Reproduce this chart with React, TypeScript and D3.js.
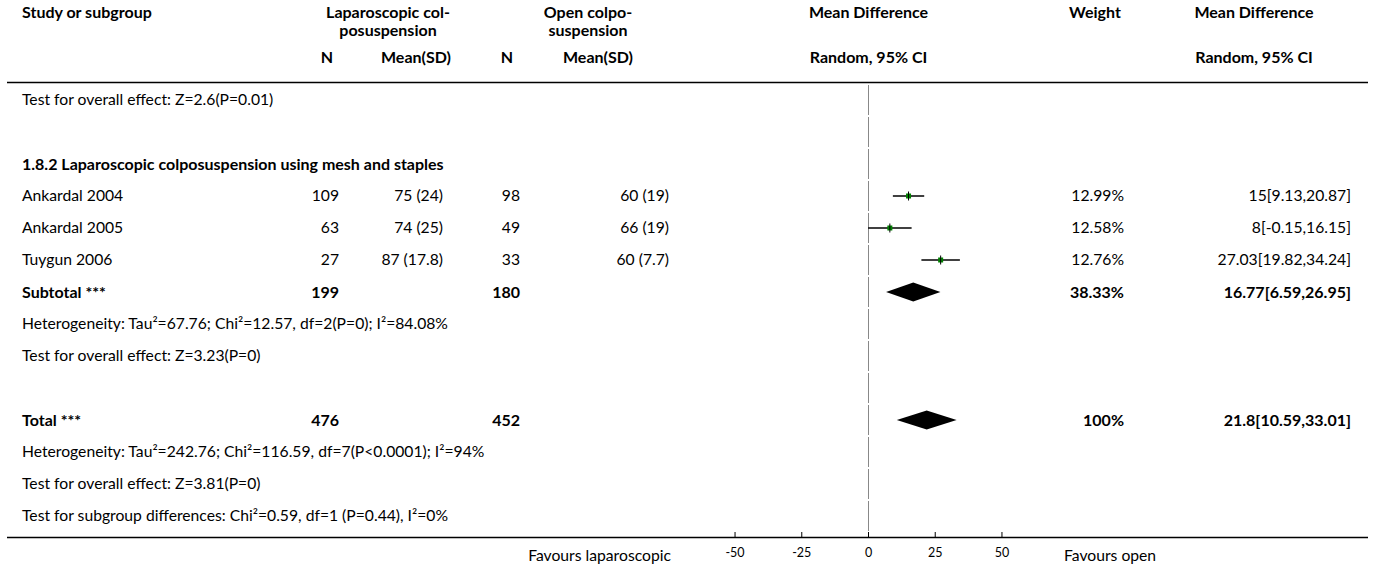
import React from "react";
import * as d3 from "d3";

// studies in subgroup 1.8.2
const studies = ["Ankardal 2004", "Ankardal 2005", "Tuygun 2006"];
const lapN = [109, 63, 27];
const lapMean = [75, 74, 87];
const lapSD = [24, 25, 17.8];
const openN = [98, 49, 33];
const openMean = [60, 66, 60];
const openSD = [19, 19, 7.7];
const md = [15, 8, 27.03];
const mdLo = [9.13, -0.15, 19.82];
const mdHi = [20.87, 16.15, 34.24];
const weights = [12.99, 12.58, 12.76];

// pooled rows: subtotal and total
const pooledLabels = ["Subtotal ***", "Total ***"];
const pooledLapN = [199, 476];
const pooledOpenN = [180, 452];
const pooledMd = [16.77, 21.8];
const pooledLo = [6.59, 10.59];
const pooledHi = [26.95, 33.01];
const pooledWeight = [38.33, 100];

const subgroupTitle = "1.8.2 Laparoscopic colposuspension using mesh and staples";
const prevEffect = "Test for overall effect: Z=2.6(P=0.01)";
const subHet = "Heterogeneity: Tau\u00b2=67.76; Chi\u00b2=12.57, df=2(P=0); I\u00b2=84.08%";
const subEffect = "Test for overall effect: Z=3.23(P=0)";
const totHet = "Heterogeneity: Tau\u00b2=242.76; Chi\u00b2=116.59, df=7(P<0.0001); I\u00b2=94%";
const totEffect = "Test for overall effect: Z=3.81(P=0)";
const subgroupDiff = "Test for subgroup differences: Chi\u00b2=0.59, df=1 (P=0.44), I\u00b2=0%";

const axisTicks = [-50, -25, 0, 25, 50];

const FONT = "Lato, 'Open Sans', sans-serif";
const FS = 15.7; // body text
const FS_BOLD = 16; // bold body rows
const FS_HEAD = 16; // column headers

export default function App() {
  const W = 1375;
  const H = 570;
  const x = d3.scaleLinear().domain([-65, 65]).range([695, 1042]);
  const row = d3.scaleLinear().domain([0, 1]).range([100, 132]);
  const nRows = 14;
  const axisY = 537;

  const col = {
    study: 22,
    lapN: 339,
    lapMean: 443,
    openN: 520,
    openMean: 669,
    weight: 1124,
    ci: 1351,
  };

  const txt = (
    key: string,
    tx: number,
    ty: number,
    s: string,
    anchor = "start",
    bold = false,
    size = bold ? FS_BOLD : FS
  ) => (
    <text
      key={key}
      x={tx}
      y={ty}
      dy="0.35em"
      textAnchor={anchor}
      fontWeight={bold ? 700 : 400}
      fontSize={size}
      fill="#000"
    >
      {s}
    </text>
  );
  const head = (key: string, tx: number, ty: number, s: string, anchor = "middle") =>
    txt(key, tx, ty, s, anchor, true, FS_HEAD);

  const ciText = (m: number, lo: number, hi: number) => `${m}[${lo},${hi}]`;

  const diamond = (m: number, lo: number, hi: number, cy: number) =>
    `M${x(lo)},${cy} L${x(m)},${cy - 9.5} L${x(hi)},${cy} L${x(m)},${cy + 9.5} Z`;

  const pooledRows = [6, 10];

  return (
    <svg
      width={W}
      height={H}
      style={{ position: "absolute", left: 0, top: 0, background: "#fff" }}
      fontFamily={FONT}
    >
      {/* header */}
      <g>
        {head("h1", col.study, 12, "Study or subgroup", "start")}
        {head("h2", 388, 12, "Laparoscopic col-")}
        {head("h3", 388, 30, "posuspension")}
        {head("h4", 588, 12, "Open colpo-")}
        {head("h5", 588, 30, "suspension")}
        {head("h6", x(0), 12, "Mean Difference")}
        {head("h7", 1095, 12, "Weight")}
        {head("h8", 1254, 12, "Mean Difference")}
        {head("h9", 327, 57, "N")}
        {head("h10", 416, 57, "Mean(SD)")}
        {head("h11", 507, 57, "N")}
        {head("h12", 598, 57, "Mean(SD)")}
        {head("h13", x(0), 57, "Random, 95% CI")}
        {head("h14", 1254, 57, "Random, 95% CI")}
        <line x1={7} x2={1368} y1={82.5} y2={82.5} stroke="#000" strokeWidth={1.5} />
      </g>

      {/* zero line, drawn row by row */}
      {d3.range(nRows).map((i) => (
        <line
          key={"z" + i}
          x1={x(0)}
          x2={x(0)}
          y1={row(i) - 15}
          y2={row(i) + 15}
          stroke="#888"
          strokeWidth={1}
        />
      ))}

      {/* rows */}
      {txt("r0", col.study, row(0), prevEffect)}
      {txt("r2", col.study, row(2), subgroupTitle, "start", true)}

      {studies.map((s, i) => {
        const cy = row(3 + i);
        return (
          <g key={s}>
            {txt("s" + i, col.study, cy, s)}
            {txt("ln" + i, col.lapN, cy, String(lapN[i]), "end")}
            {txt("lm" + i, col.lapMean, cy, `${lapMean[i]} (${lapSD[i]})`, "end")}
            {txt("on" + i, col.openN, cy, String(openN[i]), "end")}
            {txt("om" + i, col.openMean, cy, `${openMean[i]} (${openSD[i]})`, "end")}
            {txt("w" + i, col.weight, cy, `${weights[i]}%`, "end")}
            {txt("c" + i, col.ci, cy, ciText(md[i], mdLo[i], mdHi[i]), "end")}
            <line x1={x(mdLo[i])} x2={x(mdHi[i])} y1={cy} y2={cy} stroke="#000" strokeWidth={1.3} />
            <rect x={x(md[i]) - 2.5} y={cy - 2.5} width={5} height={5} fill="#008000" />
            <line x1={x(md[i])} x2={x(md[i])} y1={cy - 4.5} y2={cy + 4.5} stroke="#000" strokeWidth={1} />
          </g>
        );
      })}

      {pooledLabels.map((lab, i) => {
        const cy = row(pooledRows[i]);
        return (
          <g key={lab}>
            {txt("pl" + i, col.study, cy, lab, "start", true)}
            {txt("pln" + i, col.lapN, cy, String(pooledLapN[i]), "end", true)}
            {txt("pon" + i, col.openN, cy, String(pooledOpenN[i]), "end", true)}
            {txt("pw" + i, col.weight, cy, `${pooledWeight[i]}%`, "end", true)}
            {txt("pc" + i, col.ci, cy, ciText(pooledMd[i], pooledLo[i], pooledHi[i]), "end", true)}
            <path d={diamond(pooledMd[i], pooledLo[i], pooledHi[i], cy)} fill="#000" />
          </g>
        );
      })}

      {txt("r7", col.study, row(7), subHet)}
      {txt("r8", col.study, row(8), subEffect)}
      {txt("r11", col.study, row(11), totHet)}
      {txt("r12", col.study, row(12), totEffect)}
      {txt("r13", col.study, row(13), subgroupDiff)}

      {/* bottom rule and axis */}
      <line x1={7} x2={1368} y1={537.5} y2={537.5} stroke="#000" strokeWidth={1.3} />
      {axisTicks.map((t) => (
        <g key={"t" + t}>
          <line x1={x(t)} x2={x(t)} y1={axisY - 5} y2={axisY} stroke="#000" strokeWidth={1} />
          <text x={x(t)} y={553} dy="0.35em" textAnchor="middle" fontSize={12.5} fill="#000">
            {t}
          </text>
        </g>
      ))}
      <text x={671} y={556} dy="0.35em" textAnchor="end" fontSize={FS} fill="#000">
        Favours laparoscopic
      </text>
      <text x={1064} y={556} dy="0.35em" textAnchor="start" fontSize={FS} fill="#000">
        Favours open
      </text>
    </svg>
  );
}
